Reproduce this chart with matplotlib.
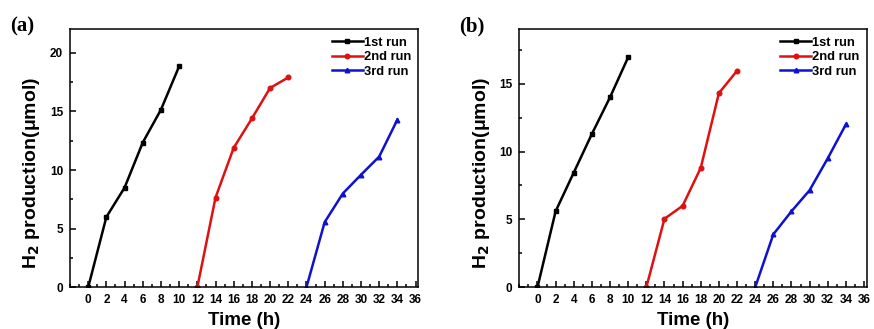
import matplotlib.pyplot as plt
from matplotlib.ticker import MultipleLocator

plt.rcParams['font.family'] = ['Liberation Sans', 'DejaVu Sans']
plt.rcParams['font.weight'] = 'bold'
plt.rcParams['mathtext.default'] = 'bf'

# time points (h) for the three consecutive runs
time_1st = [0, 2, 4, 6, 8, 10]
time_2nd = [12, 14, 16, 18, 20, 22]
time_3rd = [24, 26, 28, 30, 32, 34]

# H2 production (umol), panel (a)
a_1st = [0, 6.0, 8.5, 12.35, 15.15, 18.85]
a_2nd = [0, 7.65, 11.9, 14.4, 17.0, 17.9]
a_3rd = [0, 5.55, 8.0, 9.6, 11.15, 14.3]

# H2 production (umol), panel (b)
b_1st = [0, 5.6, 8.45, 11.3, 14.0, 16.95]
b_2nd = [0, 5.05, 6.0, 8.8, 14.3, 15.95]
b_3rd = [0, 3.9, 5.6, 7.15, 9.5, 12.0]

run_labels = ['1st run', '2nd run', '3rd run']
x_ticks = list(range(0, 37, 2))


def draw_panel(ax, ys, ymax, ymajor, tag):
    styles = [('black', 's'), ('#e01010', 'o'), ('#1010d0', '^')]
    times = [time_1st, time_2nd, time_3rd]
    for t, y, lab, (c, m) in zip(times, ys, run_labels, styles):
        ax.plot(t, y, color=c, marker=m, markersize=3.3, lw=1.8, label=lab)
    ax.set_xlim(-2, 36.3)
    ax.set_ylim(0, ymax)
    ax.set_xticks(x_ticks)
    ax.xaxis.set_minor_locator(MultipleLocator(1))
    ax.yaxis.set_major_locator(MultipleLocator(ymajor))
    ax.yaxis.set_minor_locator(MultipleLocator(ymajor / 2))
    ax.tick_params(which='both', direction='in', width=1.1, labelsize=8.5)
    ax.tick_params(axis='x', pad=5)
    ax.tick_params(axis='y', pad=5)
    ax.tick_params(which='major', length=4)
    ax.tick_params(which='minor', length=2.5)
    for s in ax.spines.values():
        s.set_linewidth(1.1)
    ax.set_xlabel('Time (h)', fontsize=13.5, fontweight='bold', labelpad=4)
    ax.set_ylabel('H$_2$ production(\u03bcmol)', fontsize=14, fontweight='bold')
    ax.yaxis.set_label_coords(-0.08, 0.445)
    ax.legend(loc='upper right', frameon=False, fontsize=9.3, handlelength=2.4,
              handletextpad=0.1, labelspacing=0.2, borderaxespad=0.15)
    ax.text(-0.172, 1.05, tag, transform=ax.transAxes, fontsize=15, fontweight='bold',
            family='Liberation Serif', va='top')


fig = plt.figure(figsize=(8.74, 3.29), dpi=100)
ax_a = fig.add_axes([0.0801, 0.1267, 0.3985, 0.784])
ax_b = fig.add_axes([0.5942, 0.1267, 0.3975, 0.784])
draw_panel(ax_a, [a_1st, a_2nd, a_3rd], 22, 5, '(a)')
draw_panel(ax_b, [b_1st, b_2nd, b_3rd], 19, 5, '(b)')
fig.savefig('out.png', dpi=100)
